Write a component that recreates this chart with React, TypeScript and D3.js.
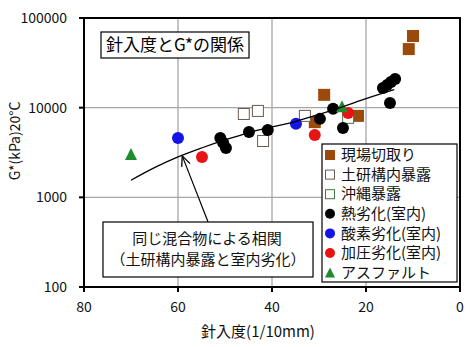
import React from "react";
import * as d3 from "d3";

// ---- data ----
const fieldCutPen = [28.9, 30.9, 21.7, 10, 10.9];
const fieldCutG = [13900, 6900, 8100, 63000, 45000];
const pwriPen = [46, 43, 41.9, 33];
const pwriG = [8500, 9200, 4250, 8100];
const okinawaPen = [23.8];
const okinawaG = [7700];
const heatPen = [51, 50.4, 49.8, 44.9, 40.9, 29.8, 27, 24.9, 14.9, 16.4, 15.5, 14.7, 13.8];
const heatG = [4600, 4050, 3550, 5350, 5650, 7500, 9700, 5950, 11300, 16600, 17900, 19300, 20900];
const oxygenPen = [60, 34.9];
const oxygenG = [4600, 6600];
const pressurePen = [54.9, 30.9, 23.8];
const pressureG = [2820, 4950, 8700];
const asphaltPen = [70, 25.1];
const asphaltG = [3050, 10400];

const curvePen = [70, 65, 60, 55, 50, 45, 40, 35, 30, 25, 20, 14];
const curveG = [1550, 2140, 2820, 3550, 4370, 5250, 6100, 7000, 8410, 10230, 12590, 15850];

const xTicks = [80, 60, 40, 20, 0];
const yTicks = [100, 1000, 10000, 100000];
const xGrid = [60, 40, 20];
const yGrid = [1000, 10000];

const legendLabels = ["現場切取り", "土研構内暴露", "沖縄暴露", "熱劣化(室内)", "酸素劣化(室内)", "加圧劣化(室内)", "アスファルト"];

const titleText = "針入度とG*の関係";
const noteLine1 = "同じ混合物による相関";
const noteLine2 = "（土研構内暴露と室内劣化）";
const xTitle = "針入度(1/10mm)";
const yTitle = "G*(kPa)20°C";

// arrow from note box to curve (data coords)
const arrowTail = { pen: 53.6, g: 532 };
const arrowTip = { pen: 59.1, g: 2900 };

const FONT = "'Noto Sans CJK JP', 'Noto Sans', sans-serif";

type Shape = "fsquare" | "osquare" | "gsquare" | "circle" | "triangle";
interface Series { pen: number[]; g: number[]; shape: Shape; color: string; label: string; }

const series: Series[] = [
  { pen: fieldCutPen, g: fieldCutG, shape: "fsquare", color: "#9C4A0C", label: legendLabels[0] },
  { pen: pwriPen, g: pwriG, shape: "osquare", color: "#6b5a4e", label: legendLabels[1] },
  { pen: okinawaPen, g: okinawaG, shape: "gsquare", color: "#3d7a3d", label: legendLabels[2] },
  { pen: heatPen, g: heatG, shape: "circle", color: "#000000", label: legendLabels[3] },
  { pen: oxygenPen, g: oxygenG, shape: "circle", color: "#1414E6", label: legendLabels[4] },
  { pen: pressurePen, g: pressureG, shape: "circle", color: "#E81414", label: legendLabels[5] },
  { pen: asphaltPen, g: asphaltG, shape: "triangle", color: "#1E8C2A", label: legendLabels[6] },
];

function Marker({ shape, color, x, y, s }: { shape: Shape; color: string; x: number; y: number; s: number }) {
  if (shape === "circle") return <circle cx={x} cy={y} r={s / 2} fill={color} />;
  if (shape === "triangle") {
    const h = s;
    return <path d={`M${x},${y - h / 2}L${x + s / 2},${y + h / 2}L${x - s / 2},${y + h / 2}Z`} fill={color} />;
  }
  if (shape === "fsquare") return <rect x={x - s / 2} y={y - s / 2} width={s} height={s} fill={color} />;
  return <rect x={x - s / 2 + 0.5} y={y - s / 2 + 0.5} width={s - 1} height={s - 1} fill="#fff" stroke={color} strokeWidth={1} />;
}

export default function App() {
  const W = 475, H = 347;
  const x = d3.scaleLinear().domain([80, 0]).range([84, 460]);
  const y = d3.scaleLog().domain([100, 100000]).range([287, 18]);

  const line = d3.line<number>().x((_, i) => x(curvePen[i])).y((_, i) => y(curveG[i])).curve(d3.curveMonotoneX);
  const curvePath = line(curvePen) || "";

  const tx = x(arrowTail.pen), ty = y(arrowTail.g), hx = x(arrowTip.pen), hy = y(arrowTip.g);
  const ang = Math.atan2(hy - ty, hx - tx);
  const hl = 11, ha = (24 * Math.PI) / 180;
  const a1x = hx - hl * Math.cos(ang - ha), a1y = hy - hl * Math.sin(ang - ha);
  const a2x = hx - hl * Math.cos(ang + ha), a2y = hy - hl * Math.sin(ang + ha);

  const legX = 322, legY = 144, legW = 135, legH = 138, legRow = 19.6;

  return (
    <svg width={W} height={H} style={{ position: "absolute", left: 0, top: 0, background: "#fff" }} fontFamily={FONT}>
      <rect x={0} y={0} width={W} height={H} fill="#fff" />
      {/* grid */}
      {xGrid.map((v) => (
        <line key={"gx" + v} x1={x(v)} x2={x(v)} y1={y(100000)} y2={y(100)} stroke="#a6a6a6" strokeWidth={1.3} />
      ))}
      {yGrid.map((v) => (
        <line key={"gy" + v} x1={x(80)} x2={x(0)} y1={y(v)} y2={y(v)} stroke="#a6a6a6" strokeWidth={1.3} />
      ))}
      {/* frame */}
      <rect x={x(80)} y={y(100000)} width={x(0) - x(80)} height={y(100) - y(100000)} fill="none" stroke="#000" strokeWidth={2} />
      {/* ticks */}
      {yTicks.map((v) => (
        <g key={"yt" + v}>
          <line x1={x(80) - 5} x2={x(80)} y1={y(v)} y2={y(v)} stroke="#000" strokeWidth={2} />
          <text x={67} y={y(v)} dy="0.35em" textAnchor="end" fontSize={14} fill="#111">{v}</text>
        </g>
      ))}
      {xTicks.map((v) => (
        <g key={"xt" + v}>
          <line x1={x(v)} x2={x(v)} y1={y(100)} y2={y(100) + 5} stroke="#000" strokeWidth={2} />
          <text x={x(v)} y={307} dy="0.35em" textAnchor="middle" fontSize={14} fill="#111">{v}</text>
        </g>
      ))}
      {/* axis titles */}
      <text x={258} y={332} dy="0.35em" textAnchor="middle" fontSize={15} fill="#111">{xTitle}</text>
      <text transform={`translate(15,141) rotate(-90)`} textAnchor="middle" dy="0.35em" fontSize={14} fill="#111">{yTitle}</text>

      {/* markers */}
      {series.map((s, si) =>
        s.pen.map((p, i) => <Marker key={si + "-" + i} shape={s.shape} color={s.color} x={x(p)} y={y(s.g[i])} s={12} />)
      )}
      {/* correlation curve */}
      <path d={curvePath} fill="none" stroke="#000" strokeWidth={1.3} />

      {/* title box */}
      <rect x={101} y={32} width={148} height={26} fill="#fff" stroke="#000" strokeWidth={1.2} />
      <text x={175} y={45} dy="0.35em" textAnchor="middle" fontSize={17} fill="#000">{titleText}</text>

      {/* note box + arrow */}
      <line x1={tx} y1={ty} x2={hx} y2={hy} stroke="#000" strokeWidth={1.2} />
      <path d={`M${a1x},${a1y}L${hx},${hy}L${a2x},${a2y}`} fill="none" stroke="#000" strokeWidth={1.3} />
      <rect x={103} y={222} width={210} height={55} fill="#fff" stroke="#000" strokeWidth={1.2} />
      <text x={207} y={239} dy="0.35em" textAnchor="middle" fontSize={15} fill="#111">{noteLine1}</text>
      <text x={208} y={260} dy="0.35em" textAnchor="middle" fontSize={15} fill="#111">{noteLine2}</text>

      {/* legend */}
      <rect x={legX} y={legY} width={legW} height={legH} fill="#fff" stroke="#000" strokeWidth={1.2} />
      {series.map((s, i) => (
        <g key={"lg" + i}>
          <Marker shape={s.shape} color={s.color} x={330} y={legY + 11 + i * legRow} s={10} />
          <text x={341} y={legY + 11 + i * legRow} dy="0.35em" fontSize={15} fill="#111">{s.label}</text>
        </g>
      ))}
    </svg>
  );
}
